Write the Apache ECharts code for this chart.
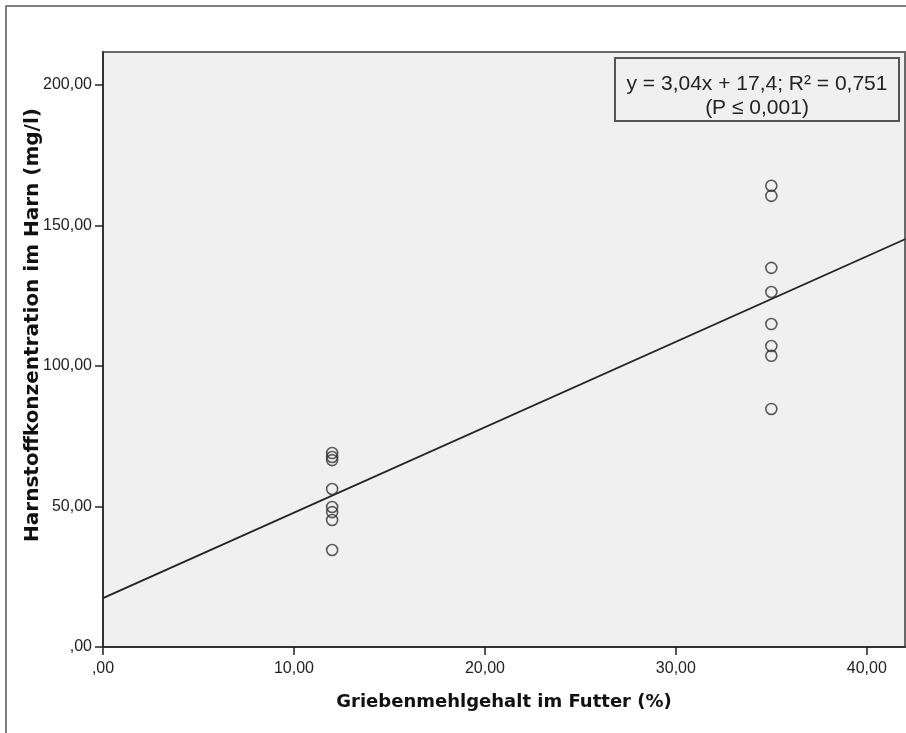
<!DOCTYPE html>
<html><head><meta charset="utf-8">
<script src="https://cdn.jsdelivr.net/npm/echarts@6/dist/echarts.min.js"></script>
<style>html,body{margin:0;padding:0;background:#fff}#c{width:906px;height:733px}</style>
</head><body><div id="c"></div>
<script>
// Data
var xGroupLow = 12;
var xGroupHigh = 35;
var yLow = [69.0, 67.6, 66.5, 56.2, 49.8, 48.0, 45.2, 34.5];
var yHigh = [164.1, 160.5, 134.9, 126.3, 114.9, 107.1, 103.6, 84.7];
var slope = 3.04;
var intercept = 17.4;
var xTickValues = [0, 10, 20, 30, 40];
var xTickLabels = [',00', '10,00', '20,00', '30,00', '40,00'];
var yTickValues = [0, 50, 100, 150, 200];
var yTickLabels = [',00', '50,00', '100,00', '150,00', '200,00'];
var xTitle = 'Griebenmehlgehalt im Futter (%)';
var yTitle = 'Harnstoffkonzentration im Harn (mg/l)';
var fitLine1 = 'y = 3,04x + 17,4; R² = 0,751';
var fitLine2 = '(P ≤ 0,001)';

var xMin = 0, xMax = 42, yMin = 0, yMax = 211.7;

var points = [];
yLow.forEach(function(v){ points.push([xGroupLow, v]); });
yHigh.forEach(function(v){ points.push([xGroupHigh, v]); });
var linePts = [[xMin, intercept + slope * xMin], [xMax, intercept + slope * xMax]];

function lab(values, labels){
  return function(v){ var i = values.indexOf(Math.round(v*1000)/1000); return i >= 0 ? labels[i] : ''; };
}
var font = '"Liberation Sans", Arial, sans-serif';
var tfont = '"DejaVu Sans", Verdana, sans-serif';
var chart = echarts.init(document.getElementById('c'), null, {renderer:'canvas'});
chart.setOption({
  animation: false,
  backgroundColor: '#ffffff',
  grid: {left: 103, top: 52, right: 1, bottom: 86, show: true, backgroundColor: '#f0f0f0', borderColor: '#6a6a6a', borderWidth: 2},
  xAxis: {
    type: 'value', min: xMin, max: xMax, interval: 10,
    axisLine: {show: true, onZero: false, lineStyle: {color: '#222', width: 1.5}},
    axisTick: {show: true, inside: false, length: 8, lineStyle: {color: '#222', width: 1.5}},
    axisLabel: {showMaxLabel: false, formatter: lab(xTickValues, xTickLabels), fontFamily: font, fontSize: 16, color: '#222', margin: 14},
    splitLine: {show: false}
  },
  yAxis: {
    type: 'value', min: yMin, max: yMax, interval: 50,
    axisLine: {show: true, onZero: false, lineStyle: {color: '#222', width: 1.5}},
    axisTick: {show: true, inside: false, length: 8, lineStyle: {color: '#222', width: 1.5}},
    axisLabel: {showMaxLabel: false, formatter: lab(yTickValues, yTickLabels), fontFamily: font, fontSize: 16, color: '#222', margin: 11},
    splitLine: {show: false}
  },
  series: [
    {type: 'line', data: linePts, symbol: 'none', lineStyle: {color: '#222', width: 1.8}, z: 2},
    {type: 'scatter', data: points, symbol: 'circle', symbolSize: 11,
     itemStyle: {color: 'rgba(0,0,0,0)', borderColor: '#333', borderWidth: 1.6}, z: 3}
  ],
  graphic: [
    {type: 'rect', shape: {x: 6, y: 6, width: 1000, height: 1000}, style: {fill: 'none', stroke: '#555', lineWidth: 1.5}, silent: true},
    {type: 'rect', shape: {x: 615, y: 58, width: 284, height: 63}, style: {fill: '#f0f0f0', stroke: '#555', lineWidth: 2}, z: 10},
    {type: 'text', x: 757, y: 84, style: {text: fitLine1, fontFamily: font, fontSize: 21, fill: '#222', align: 'center', verticalAlign: 'middle'}, z: 11},
    {type: 'text', x: 757, y: 108, style: {text: fitLine2, fontFamily: font, fontSize: 21, fill: '#222', align: 'center', verticalAlign: 'middle'}, z: 11},
    {type: 'text', x: 504, y: 702, style: {text: xTitle, fontFamily: tfont, fontWeight: 'bold', fontSize: 18, fill: '#111', align: 'center', verticalAlign: 'middle'}, z: 11},
    {type: 'text', x: 33, y: 325, rotation: Math.PI / 2, style: {text: yTitle, fontFamily: tfont, fontWeight: 'bold', fontSize: 20, fill: '#111', align: 'center', verticalAlign: 'middle'}, z: 11}
  ]
});
</script></body></html>
